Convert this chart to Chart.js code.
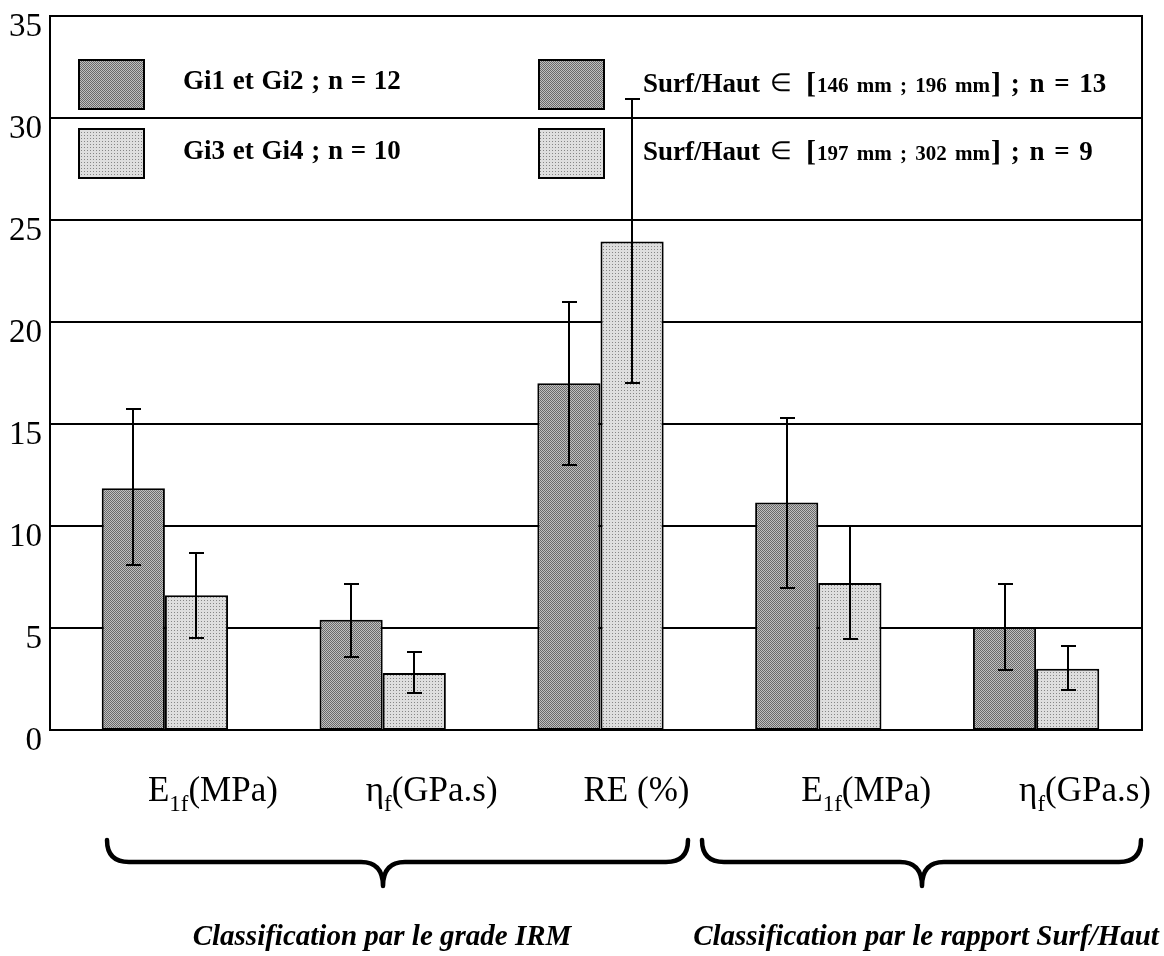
<!DOCTYPE html>
<html>
<head>
<meta charset="utf-8">
<script src="https://cdn.jsdelivr.net/npm/chart.js@4.4.1/dist/chart.umd.min.js"></script>
<style>
  html, body { margin: 0; padding: 0; background: #fff; }
  #wrap { width: 1164px; height: 956px; }
</style>
</head>
<body>
<div id="wrap"><canvas id="chart" width="1164" height="956"></canvas></div>
<script>
// values
const categories = ['E1f(MPa)', 'ηf(GPa.s)', 'RE (%)', 'E1f(MPa)', 'ηf(GPa.s)'];
// base text, subscript, rest
const labelParts = [
  ['E', '1f', '(MPa)'],
  ['η', 'f', '(GPa.s)'],
  ['RE (%)', '', ''],
  ['E', '1f', '(MPa)'],
  ['η', 'f', '(GPa.s)']
];
const groupTitles = ['Classification par le grade IRM', 'Classification par le rapport Surf/Haut'];

const gi12Mean  = [11.85, 5.4, 17.0, null, null];
const gi12Upper = [15.75, 7.15, 21.0, null, null];
const gi12Lower = [8.1, 3.6, 13.0, null, null];

const gi34Mean  = [6.6, 2.8, 23.95, null, null];
const gi34Upper = [8.7, 3.8, 30.95, null, null];
const gi34Lower = [4.5, 1.8, 17.0, null, null];

const surfLowMean  = [null, null, null, 11.15, 5.05];
const surfLowUpper = [null, null, null, 15.3, 7.15];
const surfLowLower = [null, null, null, 6.95, 2.95];

const surfHighMean  = [null, null, null, 7.2, 3.0];
const surfHighUpper = [null, null, null, 10.0, 4.1];
const surfHighLower = [null, null, null, 4.45, 1.95];

const yMin = 0, yMax = 35, yStep = 5;

const SERIF = "'Liberation Serif', 'Times New Roman', serif";
// the frame in the scan sits a few px left of the bar grid
const frameLeft = 50, frameRight = 1142;

// stippled fills like the scanned figure
function makePattern(light) {
  const tile = document.createElement('canvas');
  const g = tile.getContext('2d');
  if (light) {
    tile.width = 3; tile.height = 3;
    g.fillStyle = '#dedede'; g.fillRect(0, 0, 3, 3);
    g.fillStyle = '#868686'; g.fillRect(0, 0, 1, 1);
  } else {
    tile.width = 2; tile.height = 2;
    g.fillStyle = '#c0c0c0'; g.fillRect(0, 0, 2, 2);
    g.fillStyle = '#6a6a6a'; g.fillRect(0, 0, 1, 1); g.fillRect(1, 1, 1, 1);
  }
  return g.createPattern(tile, 'repeat');
}
const darkFill = makePattern(false);
const lightFill = makePattern(true);

const frameAndGrid = {
  id: 'frameAndGrid',
  beforeDatasetsDraw(chart) {
    const { ctx } = chart;
    const y = chart.scales.y;
    ctx.save();
    ctx.strokeStyle = '#000';
    ctx.lineWidth = 2;
    ctx.beginPath();
    for (let v = yMin; v <= yMax; v += yStep) {
      const py = Math.round(y.getPixelForValue(v));
      ctx.moveTo(frameLeft - 1, py);
      ctx.lineTo(frameRight + 1, py);
    }
    const top = Math.round(y.getPixelForValue(yMax));
    const bottom = Math.round(y.getPixelForValue(yMin));
    ctx.moveTo(frameLeft, top);
    ctx.lineTo(frameLeft, bottom);
    ctx.moveTo(frameRight, top);
    ctx.lineTo(frameRight, bottom);
    ctx.stroke();
    ctx.restore();
  }
};

const errorBars = {
  id: 'errorBars',
  afterDatasetsDraw(chart) {
    const { ctx } = chart;
    const y = chart.scales.y;
    ctx.save();
    ctx.strokeStyle = '#000';
    ctx.lineWidth = 2;
    chart.data.datasets.forEach((ds, di) => {
      const meta = chart.getDatasetMeta(di);
      meta.data.forEach((bar, i) => {
        if (ds.data[i] == null) return;
        const x = Math.round(bar.x);
        const hi = Math.round(y.getPixelForValue(ds.upper[i]));
        const lo = Math.round(y.getPixelForValue(ds.lower[i]));
        ctx.beginPath();
        ctx.moveTo(x, hi); ctx.lineTo(x, lo);
        ctx.moveTo(x - 7, hi); ctx.lineTo(x + 8, hi);
        ctx.moveTo(x - 7, lo); ctx.lineTo(x + 8, lo);
        ctx.stroke();
      });
    });
    ctx.restore();
  }
};

function drawBrace(ctx, x1, x2, xm, yEnd, yFlat, yTip) {
  const q = 22;
  ctx.beginPath();
  ctx.moveTo(x1, yEnd);
  ctx.quadraticCurveTo(x1, yFlat, x1 + q, yFlat);
  ctx.lineTo(xm - q, yFlat);
  ctx.quadraticCurveTo(xm, yFlat, xm, yTip);
  ctx.moveTo(xm, yTip);
  ctx.quadraticCurveTo(xm, yFlat, xm + q, yFlat);
  ctx.lineTo(x2 - q, yFlat);
  ctx.quadraticCurveTo(x2, yFlat, x2, yEnd);
  ctx.stroke();
}

// draws words with extra space between them, returns end x
function drawWords(ctx, text, x, y, font, extra) {
  ctx.font = font;
  const sp = ctx.measureText(' ').width + extra;
  const words = text.trim().split(/\s+/);
  if (/^\s/.test(text)) x += sp;
  words.forEach((w, k) => {
    ctx.fillText(w, x, y);
    x += ctx.measureText(w).width;
    if (k < words.length - 1) x += sp;
  });
  return x;
}

function drawLegendText(ctx, text, x, y) {
  ctx.textAlign = 'left';
  ctx.textBaseline = 'alphabetic';
  const m = text.match(/^(.*?)\s*∈\s*\[(.*?)\](.*)$/);
  if (!m) {
    drawWords(ctx, text, x, y, 'bold 27px ' + SERIF, 1);
    return;
  }
  x = drawWords(ctx, m[1], x, y, 'bold 27px ' + SERIF, 0);
  x += 10;
  x = drawWords(ctx, '∈', x, y - 1, '25px ' + SERIF, 0);
  x += 14;
  x = drawWords(ctx, '[', x, y + 1, 'bold 30px ' + SERIF, 0);
  x += 1;
  x = drawWords(ctx, m[2], x, y, 'bold 21px ' + SERIF, 3);
  x += 1;
  x = drawWords(ctx, ']', x, y + 1, 'bold 30px ' + SERIF, 0);
  drawWords(ctx, m[3], x, y, 'bold 27px ' + SERIF, 3);
}

const decorations = {
  id: 'decorations',
  afterDraw(chart) {
    const { ctx } = chart;
    const xs = chart.scales.x;
    ctx.save();

    // legend inside plot
    const boxes = [[79, 60], [79, 129], [539, 60], [539, 129]];
    const textPos = [[183, 89], [183, 159], [643, 92], [643, 160]];
    chart.data.datasets.forEach((ds, i) => {
      const [bx, by] = boxes[i];
      ctx.fillStyle = ds.backgroundColor;
      ctx.fillRect(bx, by, 65, 49);
      ctx.lineWidth = 2;
      ctx.strokeStyle = '#000';
      ctx.strokeRect(bx, by, 65, 49);
      ctx.fillStyle = '#000';
      drawLegendText(ctx, ds.label, textPos[i][0], textPos[i][1]);
    });

    // category labels with subscripts
    ctx.fillStyle = '#000';
    ctx.textBaseline = 'alphabetic';
    ctx.textAlign = 'left';
    labelParts.forEach((parts, i) => {
      let x = xs.getPixelForValue(i) - 17;
      const base = 801;
      ctx.font = '35px ' + SERIF;
      ctx.fillText(parts[0], x, base);
      x += ctx.measureText(parts[0]).width;
      if (parts[1]) {
        ctx.font = '23px ' + SERIF;
        ctx.fillText(parts[1], x, base + 10);
        x += ctx.measureText(parts[1]).width;
      }
      if (parts[2]) {
        ctx.font = '35px ' + SERIF;
        ctx.fillText(parts[2], x, base);
      }
    });

    // braces grouping the categories
    ctx.lineWidth = 4.5;
    ctx.lineCap = 'round';
    ctx.lineJoin = 'round';
    drawBrace(ctx, 107, 688, 383, 840, 862, 886);
    drawBrace(ctx, 702, 1141, 922, 840, 862, 886);

    ctx.font = 'italic bold 29px ' + SERIF;
    ctx.textAlign = 'center';
    ctx.fillText(groupTitles[0], 382, 945);
    ctx.fillText(groupTitles[1], 926, 945);
    ctx.restore();
  }
};

const barStyle = {
  borderColor: '#000',
  borderWidth: 2,
  borderSkipped: false,
  categoryPercentage: 0.58,
  barPercentage: 1.0
};

new Chart(document.getElementById('chart'), {
  type: 'bar',
  data: {
    labels: categories,
    datasets: [
      { label: 'Gi1 et Gi2 ; n = 12', data: gi12Mean, upper: gi12Upper, lower: gi12Lower, backgroundColor: darkFill, ...barStyle },
      { label: 'Gi3 et Gi4 ; n = 10', data: gi34Mean, upper: gi34Upper, lower: gi34Lower, backgroundColor: lightFill, ...barStyle },
      { label: 'Surf/Haut ∈ [146 mm ; 196 mm] ; n = 13', data: surfLowMean, upper: surfLowUpper, lower: surfLowLower, backgroundColor: darkFill, ...barStyle },
      { label: 'Surf/Haut ∈ [197 mm ; 302 mm] ; n = 9', data: surfHighMean, upper: surfHighUpper, lower: surfHighLower, backgroundColor: lightFill, ...barStyle }
    ]
  },
  options: {
    responsive: false,
    animation: false,
    devicePixelRatio: 1,
    datasets: { bar: { skipNull: true } },
    layout: { padding: { left: 0, right: 19, top: 16, bottom: 226 } },
    plugins: {
      legend: { display: false },
      tooltip: { enabled: false }
    },
    scales: {
      x: { display: false },
      y: {
        min: yMin,
        max: yMax,
        ticks: {
          stepSize: yStep,
          color: '#000',
          padding: 14,
          labelOffset: 11,
          font: { family: SERIF, size: 33 }
        },
        grid: { display: false, drawTicks: false },
        border: { display: false },
        afterFit(scale) {
          scale.width = 56;
          scale.paddingTop = 0;
          scale.paddingBottom = 0;
        }
      }
    }
  },
  plugins: [frameAndGrid, errorBars, decorations]
});
</script>
</body>
</html>
